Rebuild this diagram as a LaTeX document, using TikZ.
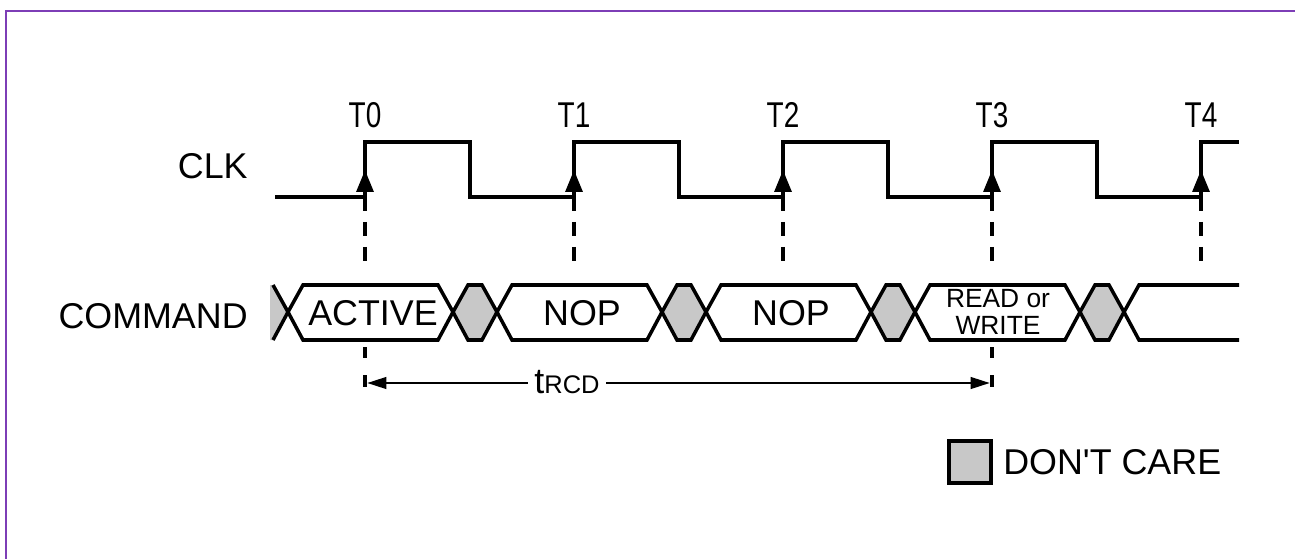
\documentclass[tikz,border=0pt]{standalone}
\usepackage{fontspec}
\setmainfont{Liberation Sans}
\newfontfamily\narrowfont[FakeStretch=0.78]{Liberation Sans}
\usetikzlibrary{arrows.meta,positioning}
\definecolor{dcgray}{RGB}{200,200,200}
\definecolor{framepurple}{RGB}{125,62,182}

\begin{document}
\begin{tikzpicture}[x=0.02cm,y=-0.02cm,font=\fontsize{20.4}{24}\selectfont,
  every node/.style={inner sep=0pt},
  wave/.style={line width=2pt,line join=miter},
  guide/.style={line width=2pt,dash pattern=on 7.9pt off 6.3pt},
  lowguide/.style={line width=2pt,dash pattern=on 6.5pt off 9.5pt},
  dontcare/.style={fill=dcgray},
  tlabel/.style={font=\narrowfont\fontsize{20.4}{24}\selectfont},
  dim/.style={line width=1.6pt,-{Triangle[length=11pt,width=6.5pt]}}]
\useasboundingbox (0,0) rectangle (1295,558);
\clip (0,0) rectangle (1295,558);
\draw[framepurple,line width=1.2pt] (6,11) rectangle (1320,580);

% signal names
\node[anchor=east] (clk) at (248,166) {CLK};
\node[anchor=east] (cmd) at (248,316) {COMMAND};

% clock edges T0..T4
\foreach \i [evaluate=\i as \tx using 365+209*\i] in {0,...,4}{
  \coordinate (lo\i) at (\tx,197);
  \coordinate (hi\i) at (\tx,142);
  \coordinate (g\i) at (\tx,263);
  \node[tlabel] (t\i) at (\tx,115) {T\i};
  \draw[guide] (lo\i) -- (g\i);
}
\draw[wave] (275,197) -- (lo0) -- (hi0) -- ++(105,0) -- ++(0,55)
  -- (lo1) -- (hi1) -- ++(105,0) -- ++(0,55)
  -- (lo2) -- (hi2) -- ++(105,0) -- ++(0,55)
  -- (lo3) -- (hi3) -- ++(105,0) -- ++(0,55)
  -- (lo4) -- (hi4) -- (1239,142);
\foreach \i in {0,...,4}
  \draw[wave,-{Triangle[length=12.5pt,width=9.6pt]}] (lo\i) -- ++(0,-27);

% command bus
\fill[dcgray] (270,285) -- (273,285) -- (288,312) -- (273,340) -- (270,340) -- cycle;
\draw[wave] (273,285) -- (288,312) -- (273,340);
\foreach \i [evaluate=\i as \tx using 365+209*\i] in {0,...,3}{
  \draw[wave] (\tx-77,312) -- (\tx-62,285) -- (\tx+73,285) -- (\tx+88,312)
    -- (\tx+73,340) -- (\tx-62,340) -- cycle;
  \draw[wave,dontcare] (\tx+88,312) -- (\tx+103,285) -- (\tx+117,285)
    -- (\tx+132,312) -- (\tx+117,340) -- (\tx+103,340) -- cycle;
}
\draw[wave] (1239,285) -- (1139,285) -- (1124,312) -- (1139,340) -- (1239,340);

\node (act) at (373,313) {ACTIVE};
\node (nop1) at (582,313) {NOP};
\node (nop2) at (791,313) {NOP};
\node[align=center,font=\fontsize{15}{15}\selectfont] (rw) at (998,312) {READ or\\WRITE};

% tRCD
\coordinate (a0) at (367,383);
\coordinate (a3) at (990,383);
\draw[lowguide] (365,347) -- (365,390);
\draw[lowguide] (992,347) -- (992,390);
\node[anchor=base,inner xsep=3.5pt] (trcd) at (567,393) {t{\fontsize{14.5}{14.5}\selectfont RCD}};
\draw[dim] (trcd.west |- a0) -- (a0);
\draw[dim] (trcd.east |- a3) -- (a3);

% legend
\node[draw,line width=2.3pt,dontcare,minimum size=23.8pt] (dc) at (970,462) {};
\node[right=0.2cm of dc] (dclabel) {DON\textquotesingle T CARE};
\end{tikzpicture}
\end{document}
